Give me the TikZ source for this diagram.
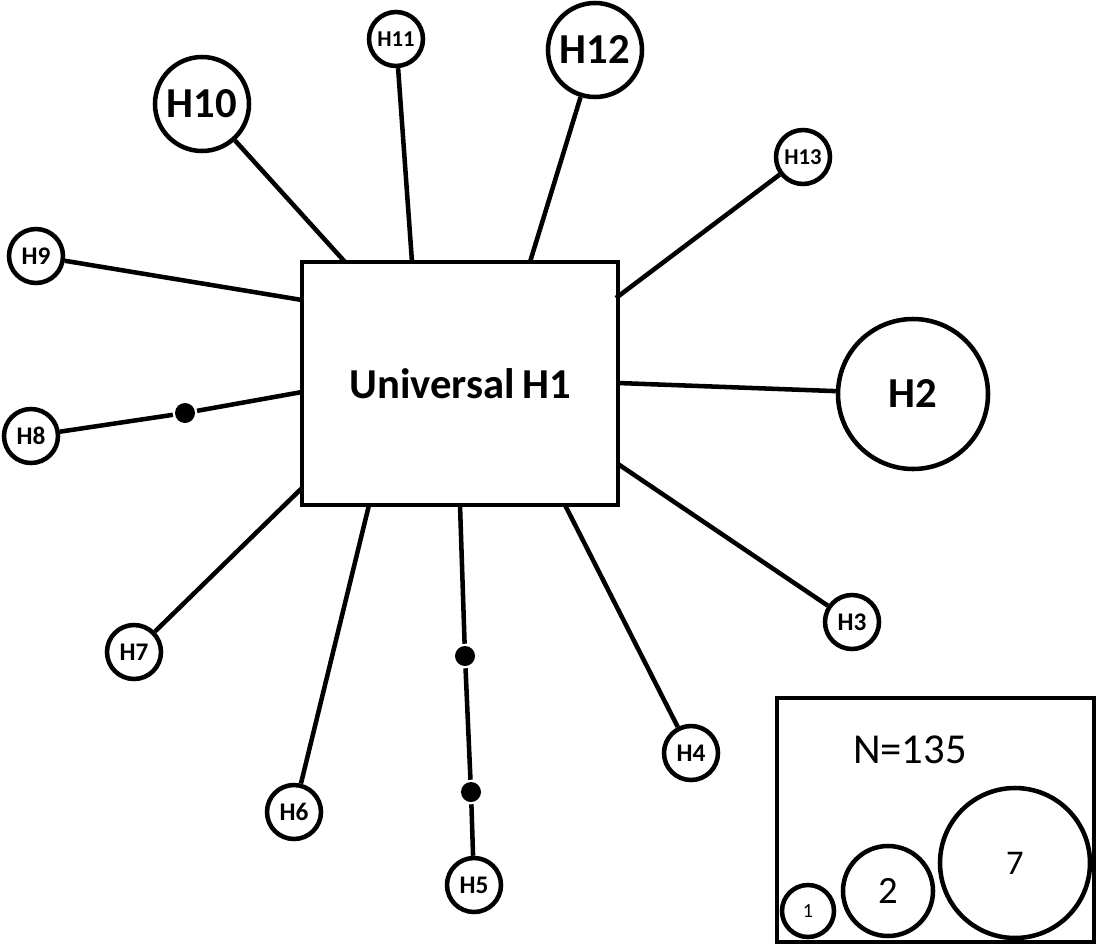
\documentclass[tikz,border=0pt]{standalone}
\usepackage{fontspec}
\setmainfont{Carlito}

\begin{document}
\begin{tikzpicture}[x = 0.75pt, y = -0.75pt, line width = 3.4pt,
	hap/.style = {circle, draw, inner sep = 0pt, minimum size = #1},
	small/.style = {hap = 40.5pt, font = \bfseries\fontsize{19}{19}\selectfont},
	big/.style = {hap = 70.5pt, font = \bfseries\fontsize{32}{32}\selectfont},
	snp/.style = {circle, fill, inner sep = 0pt, minimum size = 15pt}
	]
	\useasboundingbox (0,0) rectangle (1097,946);

	% central haplotype
	\node[draw, minimum width = 237pt, minimum height = 182pt, font = \bfseries\fontsize{32}{32}\selectfont] (H1) at (460,383.5) {Universal\,H1};

	% haplotypes around
	\node[hap = 112.5pt, font = \bfseries\fontsize{32}{32}\selectfont] (H2) at (913,394) {H2};
	\node[small] (H3) at (852,622) {H3};
	\node[small] (H4) at (691,753) {H4};
	\node[small] (H5) at (474,885) {H5};
	\node[small] (H6) at (294,812) {H6};
	\node[small] (H7) at (134,652) {H7};
	\node[small] (H8) at (31,436) {H8};
	\node[small] (H9) at (36,256) {H9};
	\node[big] (H10) at (202,104) {H10};
	\node[small, font = \bfseries\fontsize{17}{17}\selectfont] (H11) at (396,39) {H11};
	\node[big] (H12) at (595,50) {H12};
	\node[small, font = \bfseries\fontsize{17}{17}\selectfont] (H13) at (803,157) {H13};

	% mutation steps
	\node[snp] (m8) at (185,413) {};
	\node[snp] (m5a) at (465,656) {};
	\node[snp] (m5b) at (471,792) {};

	% points on the box
	\coordinate (b2) at (618,383);
	\coordinate (b3) at (618,464);
	\coordinate (b4) at (565,505);
	\coordinate (b5) at (460,505);
	\coordinate (b6) at (369,505);
	\coordinate (b7) at (302,488);
	\coordinate (b8) at (302,392);
	\coordinate (b9) at (302,300);
	\coordinate (b10) at (345,262);
	\coordinate (b11) at (412,262);
	\coordinate (b12) at (530,262);
	\coordinate (b13) at (616,298);

	\draw (H2) -- (b2);
	\draw (H3) -- (b3);
	\draw (H4) -- (b4);
	\draw (H5) -- (m5b) -- (m5a) -- (b5);
	\draw (H6) -- (b6);
	\draw (H7) -- (b7);
	\draw (H8) -- (m8) -- (b8);
	\draw (H9) -- (b9);
	\draw (H10) -- (b10);
	\draw (H11) -- (b11);
	\draw (H12) -- (b12);
	\draw (H13) -- (b13);

	% legend
	\draw (777,698) rectangle (1094,942);
	\node[font = \fontsize{32}{32}\selectfont] (N) at (910,750) {N=135};
	\node[hap = 39pt, font = \fontsize{15}{15}\selectfont] (L1) at (808,911) {1};
	\node[hap = 67.5pt, font = \fontsize{29}{29}\selectfont] (L2) at (888,891) {2};
	\node[hap = 112.5pt, font = \fontsize{26}{26}\selectfont] (L7) at (1015,863) {7};
\end{tikzpicture}
\end{document}
